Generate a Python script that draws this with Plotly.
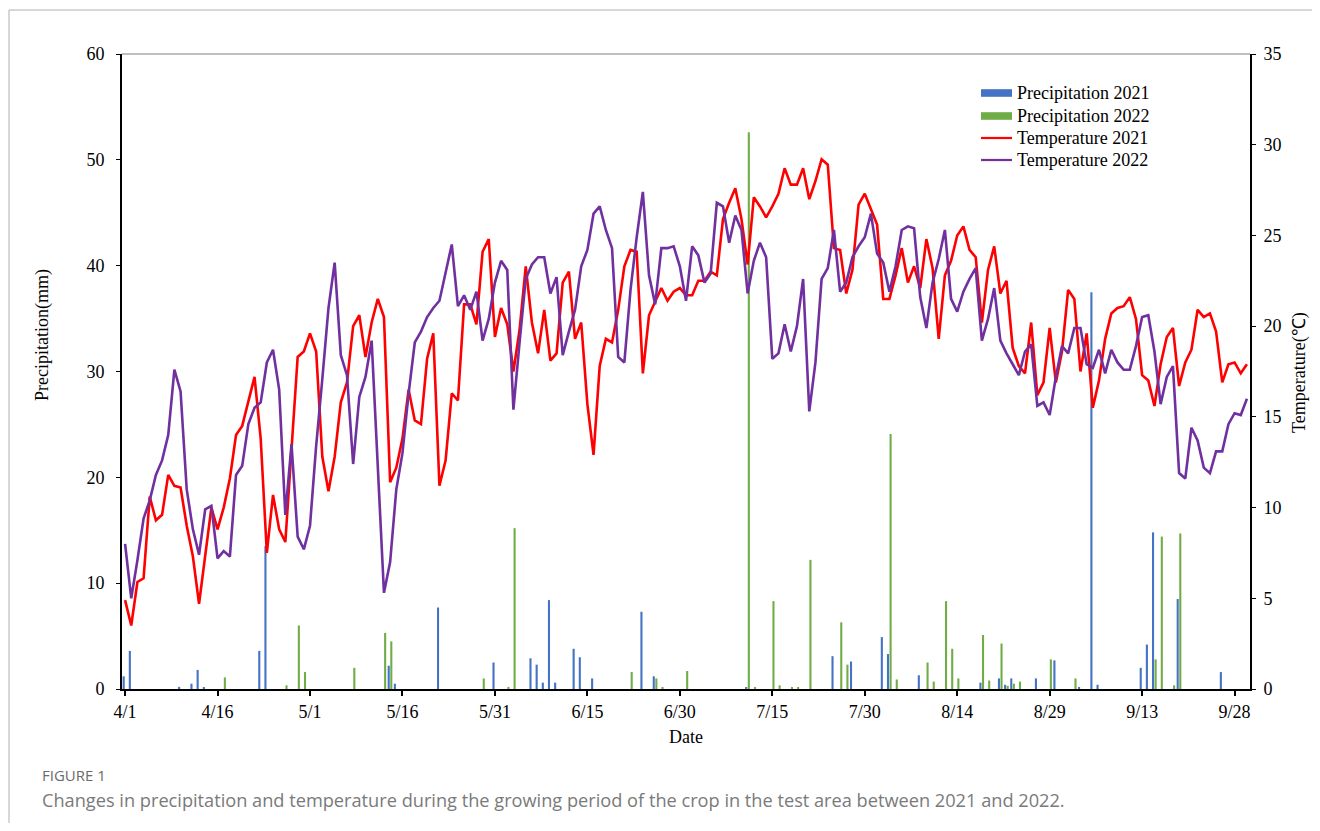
import plotly.graph_objects as go
import pandas as pd

# ---------------- data ----------------
dates = [f"{d.month}/{d.day}" for d in pd.date_range("2021-04-01", "2021-09-30")]  # 183 days
tick_labels = ["4/1", "4/16", "5/1", "5/16", "5/31", "6/15", "6/30",
               "7/15", "7/30", "8/14", "8/29", "9/13", "9/28"]

temp_2021 = [4.9, 3.5, 5.9, 6.1, 10.6, 9.3, 9.6, 11.8, 11.2, 11.1, 9.0, 7.3, 4.7, 7.3, 10.0, 8.8, 10.0, 11.6, 14.0, 14.5,
             15.9, 17.2, 13.8, 7.5, 10.7, 8.8, 8.1, 13.2, 18.3, 18.6, 19.6, 18.6, 12.8, 10.9, 12.8, 15.8, 16.9, 20.0, 20.6, 18.3,
             20.2, 21.5, 20.5, 11.4, 12.2, 13.8, 16.5, 14.8, 14.6, 18.2, 19.6, 11.2, 12.6, 16.3, 15.9, 21.2, 21.2, 20.1, 24.1, 24.8,
             19.4, 21.0, 20.1, 17.5, 19.8, 23.3, 20.2, 18.5, 20.9, 18.1, 18.5, 22.4, 23.0, 19.3, 20.2, 15.7, 12.9, 17.8, 19.3, 19.1,
             20.9, 23.3, 24.2, 24.1, 17.4, 20.6, 21.4, 22.1, 21.4, 21.9, 22.1, 21.7, 21.7, 22.5, 22.5, 23.0, 22.8, 25.9, 26.8, 27.6,
             25.9, 23.4, 27.1, 26.6, 26.0, 26.6, 27.3, 28.7, 27.8, 27.8, 28.7, 27.0, 28.0, 29.2, 28.9, 24.3, 24.2, 21.8, 23.1, 26.7,
             27.3, 26.5, 25.6, 21.5, 21.5, 22.8, 24.3, 22.4, 23.3, 22.1, 24.8, 23.2, 19.3, 22.8, 23.6, 25.0, 25.5, 24.2, 23.8, 20.2,
             23.1, 24.4, 21.8, 22.5, 18.8, 17.8, 17.4, 20.2, 16.2, 16.9, 19.9, 16.9, 18.6, 22.0, 21.5, 17.5, 19.6, 15.5, 17.0, 19.3,
             20.7, 21.0, 21.1, 21.6, 20.4, 17.3, 17.0, 15.6, 17.9, 19.4, 19.9, 16.7, 18.0, 18.7, 20.9, 20.5, 20.7, 19.7, 16.9, 17.9,
             18.0, 17.4, 17.9]

temp_2022 = [8.0, 5.0, 7.1, 9.4, 10.4, 11.8, 12.6, 14.0, 17.6, 16.4, 11.0, 8.8, 7.4, 9.9, 10.1, 7.2, 7.6, 7.3, 11.8, 12.3,
             14.6, 15.5, 15.8, 18.0, 18.7, 16.5, 9.6, 13.5, 8.4, 7.7, 9.0, 13.4, 17.1, 21.0, 23.5, 18.4, 17.3, 12.4, 16.1, 17.2,
             19.2, 12.2, 5.3, 7.0, 11.0, 13.0, 16.3, 19.1, 19.7, 20.5, 21.0, 21.4, 22.9, 24.5, 21.1, 21.7, 20.9, 21.9, 19.2, 20.4,
             22.4, 23.6, 23.1, 15.4, 19.1, 22.6, 23.4, 23.8, 23.8, 21.8, 22.7, 18.4, 19.7, 20.9, 23.3, 24.2, 26.2, 26.6, 25.3, 24.3,
             18.3, 18.0, 22.0, 24.9, 27.4, 22.8, 21.2, 24.3, 24.3, 24.4, 23.3, 21.4, 24.4, 23.9, 22.4, 22.9, 26.8, 26.6, 24.6, 26.1,
             25.3, 21.8, 23.6, 24.6, 23.8, 18.2, 18.5, 20.1, 18.6, 20.0, 22.6, 15.3, 18.0, 22.6, 23.2, 25.3, 21.9, 22.4, 23.8, 24.4,
             24.9, 26.2, 24.0, 23.5, 21.9, 23.3, 25.3, 25.5, 25.4, 21.6, 19.9, 22.4, 23.7, 25.3, 21.5, 20.8, 21.9, 22.6, 23.2, 19.2,
             20.4, 22.1, 19.2, 18.5, 17.9, 17.3, 18.6, 19.0, 15.6, 15.8, 15.1, 17.2, 18.9, 18.5, 19.9, 19.9, 17.9, 17.7, 18.7, 17.4,
             18.7, 18.0, 17.6, 17.6, 18.9, 20.5, 20.6, 18.6, 15.7, 17.2, 17.8, 11.9, 11.6, 14.4, 13.7, 12.2, 11.9, 13.1, 13.1, 14.6,
             15.2, 15.1, 16.0]

# rainy days (index from 4/1) and amounts (mm)
rain_2021_day = [0, 1, 9, 11, 12, 13, 22, 23, 43, 44, 51, 60, 66, 67, 68, 69, 70, 73, 74, 76, 84, 86, 101,
                 115, 118, 123, 124, 129, 139, 142, 143, 144, 148, 151, 155, 157, 158, 165, 166, 167, 171, 178]
rain_2021_mm = [1.2, 3.6, 0.2, 0.5, 1.8, 0.1, 3.6, 13.5, 2.2, 0.5, 7.7, 2.5, 2.9, 2.3, 0.6, 8.4, 0.6, 3.8, 3.0, 1.0, 7.3, 1.2, 0.15,
                3.1, 2.6, 4.9, 3.3, 1.3, 0.6, 1.0, 0.4, 1.0, 1.0, 2.7, 0.1, 37.5, 0.4, 2.0, 4.2, 14.8, 8.5, 1.6]

rain_2022_day = [16, 26, 28, 29, 37, 42, 43, 58, 62, 63, 82, 86, 87, 91, 101, 102, 105, 106, 108, 109, 111,
                 116, 117, 124, 125, 130, 131, 133, 134, 135, 139, 140, 142, 143, 144, 145, 150, 154, 167, 168, 170, 171]
rain_2022_mm = [1.1, 0.35, 6.0, 1.6, 2.0, 5.3, 4.5, 1.0, 0.2, 15.2, 1.6, 1.0, 0.15, 1.7, 52.6, 0.1, 8.3, 0.35, 0.1, 0.1, 12.2,
                6.3, 2.3, 24.1, 0.9, 2.5, 0.7, 8.3, 3.8, 1.0, 5.1, 0.8, 4.3, 0.3, 0.5, 0.7, 2.8, 1.0, 2.8, 14.4, 0.35, 14.7]

# ---------------- build ----------------
N = len(dates)
rain21 = [0.0] * N
for d, v in zip(rain_2021_day, rain_2021_mm):
    rain21[d] = v
rain22 = [0.0] * N
for d, v in zip(rain_2022_day, rain_2022_mm):
    rain22[d] = v

C_BLUE, C_GREEN, C_RED, C_PURPLE = "#4472C4", "#70AD47", "#FF0000", "#7030A0"
SERIF = "Liberation Serif"
FS = 18

fig = go.Figure()
fig.add_trace(go.Bar(x=dates, y=rain21, marker_color=C_BLUE, marker_line_width=0,
                     width=0.34, offset=-0.40, name="Precipitation 2021", showlegend=False))
fig.add_trace(go.Bar(x=dates, y=rain22, marker_color=C_GREEN, marker_line_width=0,
                     width=0.34, offset=0.02, name="Precipitation 2022", showlegend=False))
fig.add_trace(go.Scatter(x=dates, y=temp_2021, mode="lines", line=dict(color=C_RED, width=2.6),
                         yaxis="y2", name="Temperature 2021", showlegend=False))
fig.add_trace(go.Scatter(x=dates, y=temp_2022, mode="lines", line=dict(color=C_PURPLE, width=2.6),
                         yaxis="y2", name="Temperature 2022", showlegend=False))

# page body has an 8px margin: work in window pixels and subtract it
OFF = 8
W, H = 1320 - 2 * OFF, 831 - 2 * OFF
L, R, T, B = 122, 1250, 54, 689          # plot area in window pixels


def px(x):
    return (x - L) / (R - L)


def py(y):
    return (B - y) / (B - T)


shapes = []
annotations = []
# outer figure border (only left & top edges visible in the reference)
shapes.append(dict(type="line", xref="paper", yref="paper", x0=px(9), x1=px(9), y0=py(10), y1=py(860),
                   line=dict(color="#b0b0b0", width=1), layer="below"))
shapes.append(dict(type="line", xref="paper", yref="paper", x0=px(9), x1=px(1340), y0=py(10), y1=py(10),
                   line=dict(color="#b0b0b0", width=1), layer="below"))
# top border of plot area
shapes.append(dict(type="line", xref="paper", yref="paper", x0=0, x1=1, y0=1, y1=1,
                   line=dict(color="#808080", width=1.2)))

# custom legend
leg_items = [("Precipitation 2021", C_BLUE, "rect", 93), ("Precipitation 2022", C_GREEN, "rect", 116),
             ("Temperature 2021", C_RED, "line", 138), ("Temperature 2022", C_PURPLE, "line", 160)]
for label, col, kind, yc in leg_items:
    if kind == "rect":
        shapes.append(dict(type="rect", xref="paper", yref="paper", x0=px(981), x1=px(1012),
                           y0=py(yc + 3.8), y1=py(yc - 3.8), fillcolor=col, line=dict(width=0)))
    else:
        shapes.append(dict(type="line", xref="paper", yref="paper", x0=px(981), x1=px(1012),
                           y0=py(yc), y1=py(yc), line=dict(color=col, width=2.2)))
    annotations.append(dict(text=label, xref="paper", yref="paper", x=px(1015), y=py(yc),
                            xanchor="left", yanchor="middle", showarrow=False,
                            font=dict(family=SERIF, size=FS, color="#000")))

# axis titles
annotations.append(dict(text="Precipitation(mm)", xref="paper", yref="paper", x=px(42), y=py(335),
                        textangle=-90, showarrow=False, xanchor="center", yanchor="middle",
                        font=dict(family=SERIF, size=FS, color="#000")))
annotations.append(dict(text="Temperature(℃)", xref="paper", yref="paper", x=px(1300), y=py(373),
                        textangle=-90, showarrow=False, xanchor="center", yanchor="middle",
                        font=dict(family=SERIF, size=FS, color="#000")))
annotations.append(dict(text="Date", xref="paper", yref="paper", x=px(686), y=py(737),
                        showarrow=False, xanchor="center", yanchor="middle",
                        font=dict(family=SERIF, size=FS, color="#000")))
# caption
annotations.append(dict(text="FIGURE 1", xref="paper", yref="paper", x=px(40), y=py(775),
                        showarrow=False, xanchor="left", yanchor="middle",
                        font=dict(family="Open Sans", size=15, color="#6b6b6b")))
annotations.append(dict(text="Changes in precipitation and temperature during the growing period of the crop "
                             "in the test area between 2021 and 2022.",
                        xref="paper", yref="paper", x=px(40), y=py(800),
                        showarrow=False, xanchor="left", yanchor="middle",
                        font=dict(family="Open Sans", size=18.2, color="#7a7a7a")))

fig.update_layout(
    width=W, height=H,
    margin=dict(l=L - OFF, r=W - (R - OFF), t=T - OFF, b=H - (B - OFF), autoexpand=False),
    paper_bgcolor="white", plot_bgcolor="white",
    barmode="overlay",
    showlegend=False,
    font=dict(family=SERIF, size=FS, color="#000"),
    xaxis=dict(type="category", categoryorder="array", categoryarray=dates,
               range=[-0.5, N - 0.5], tickmode="array", tickvals=tick_labels, ticktext=tick_labels,
               showline=True, linecolor="#000", linewidth=2, ticks="outside", ticklen=5, tickwidth=1.5,
               tickcolor="#000", showgrid=False, zeroline=False, tickangle=0,
               tickfont=dict(family=SERIF, size=FS)),
    yaxis=dict(range=[0, 60], dtick=10, showline=True, linecolor="#000", linewidth=2,
               ticks="outside", ticklen=4, tickwidth=1.2, tickcolor="#000",
               showgrid=False, zeroline=False, ticklabelstandoff=8,
               tickfont=dict(family=SERIF, size=FS)),
    yaxis2=dict(range=[0, 35], dtick=5, overlaying="y", side="right", showline=True, linecolor="#000",
                linewidth=2, ticks="outside", ticklen=4, tickwidth=1.2, tickcolor="#000",
                showgrid=False, zeroline=False, ticklabelstandoff=4,
                tickfont=dict(family=SERIF, size=FS)),
    shapes=shapes,
    annotations=annotations,
)

fig.write_html("out.html")
